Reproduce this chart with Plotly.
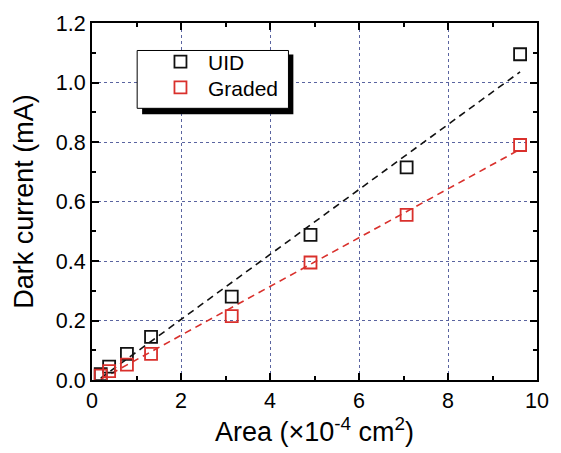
import numpy as np
import plotly.graph_objects as go

area = [0.196, 0.385, 0.785, 1.327, 3.14, 4.91, 7.07, 9.62]
uid = [0.020, 0.045, 0.088, 0.145, 0.280, 0.488, 0.715, 1.095]
graded = [0.015, 0.030, 0.052, 0.088, 0.215, 0.395, 0.555, 0.790]

x_ticks = [0, 2, 4, 6, 8, 10]
y_ticks = [0.0, 0.2, 0.4, 0.6, 0.8, 1.0, 1.2]

BLACK = "#111111"
RED = "#d9302c"
FONT = "Liberation Sans, Arial, sans-serif"

fig = go.Figure()

xs = np.array(area)
for ys, col in [(uid, BLACK), (graded, RED)]:
    k, b = np.polyfit(xs, np.array(ys), 1)
    x0 = max(xs[0], -b / k)
    xf = np.array([x0, xs[-1]])
    fig.add_trace(go.Scatter(x=xf, y=k * xf + b, mode="lines",
                             line=dict(color=col, width=1.6, dash="7px,5px"),
                             showlegend=False, hoverinfo="skip"))

for name, ys, col, lg in [("UID", uid, BLACK, "legend"), ("Graded", graded, RED, "legend2")]:
    fig.add_trace(go.Scatter(x=area, y=ys, mode="markers", name=name, legend=lg,
                             marker=dict(symbol="square-open", size=12, color=col,
                                         line=dict(color=col, width=1.8))))

axis_common = dict(showline=True, linecolor="black", linewidth=2, mirror="allticks",
                   ticks="inside", ticklen=7, tickwidth=1.5, tickcolor="black",
                   showgrid=True, gridcolor="#5a64a0", griddash="dot", gridwidth=1,
                   zeroline=False, tickfont=dict(family=FONT, size=21.5, color="black"))

fig.update_xaxes(range=[0, 10], tickvals=x_ticks, ticktext=[str(v) for v in x_ticks],
                 minor=dict(ticks="inside", ticklen=4, tickwidth=1.5, tickcolor="black", dtick=1, showgrid=False),
                 title=dict(text="Area (×10<sup>-4</sup> cm<sup>2</sup>)", font=dict(family=FONT, size=27, color="black"), standoff=4),
                 **axis_common)
fig.update_yaxes(range=[0, 1.2], tickvals=y_ticks, ticktext=[f"{v:.1f}" for v in y_ticks],
                 minor=dict(ticks="inside", ticklen=4, tickwidth=1.5, tickcolor="black", dtick=0.1, showgrid=False),
                 title=dict(text="Dark current (mA)", font=dict(family=FONT, size=27, color="black"), standoff=14),
                 **axis_common)

# legend box with shadow
fig.add_shape(type="rect", xref="paper", yref="paper", layer="above",
              x0=0.1126, x1=0.4525, y0=0.7445, y1=0.912,
              fillcolor="black", line=dict(width=0))
fig.add_shape(type="rect", xref="paper", yref="paper", layer="above",
              x0=0.1015, x1=0.4415, y0=0.761, y1=0.923,
              fillcolor="white", line=dict(color="black", width=1))

leg_common = dict(xanchor="left", yanchor="top", bgcolor="rgba(0,0,0,0)", borderwidth=0,
                  font=dict(family=FONT, size=21, color="black"), itemwidth=45)

fig.update_layout(
    width=561, height=453,
    margin=dict(l=92, r=16, t=16, b=73),
    plot_bgcolor="white", paper_bgcolor="white",
    font=dict(family=FONT, color="black"),
    showlegend=True,
    legend=dict(x=0.137, y=0.948, **leg_common),
    legend2=dict(x=0.137, y=0.876, **leg_common),
)

fig.write_html("out.html")
